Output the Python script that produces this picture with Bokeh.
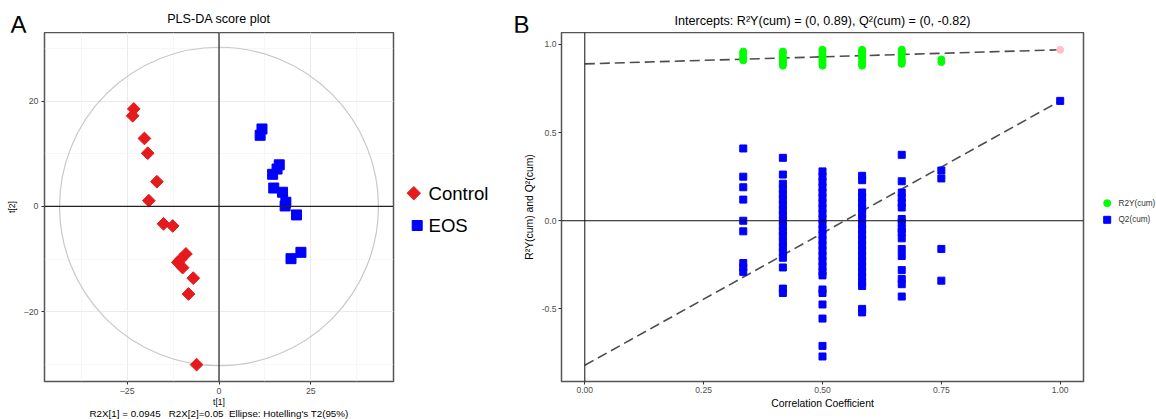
import math
from bokeh.plotting import figure
from bokeh.models import (Range1d, FixedTicker, Span, NumeralTickFormatter)
from bokeh.core.properties import value
from bokeh.layouts import row, column
from bokeh.embed import file_html
from bokeh.resources import INLINE

FONT = "Liberation Sans"

# ---------------- Panel A data (PLS-DA scores) ----------------
control_t1 = [-23.2, -23.5, -20.3, -19.4, -16.9, -19.1, -15.1, -12.6, -9.0, -11.2, -9.9, -10.4, -7.0, -8.3, -6.1]
control_t2 = [18.5, 17.2, 12.9, 10.1, 4.7, 1.1, -3.3, -3.7, -9.0, -10.6, -11.6, -10.0, -13.6, -16.6, -30.0]
eos_t1 = [11.7, 11.2, 16.4, 15.8, 14.6, 14.9, 17.3, 18.2, 18.0, 21.1, 22.3, 19.6]
eos_t2 = [14.7, 13.5, 7.9, 7.1, 6.1, 3.5, 2.7, 0.8, 0.1, -1.6, -8.7, -9.9]
ellipse_a = 43.4
ellipse_b = 30.2
t1_ticks = [-25, 0, 25]
t2_ticks = [-20, 0, 20]
groups = ["Control", "EOS"]
title_a = "PLS-DA score plot"
caption = "R2X[1] = 0.0945\u00a0\u00a0 R2X[2]=0.05\u00a0 Ellipse: Hotelling's T2(95%)"

# ---------------- Panel B data (permutation test) ----------------
r2y_x = ([1/3]*6 + [5/12]*8 + [0.5]*9 + [7/12]*9 + [2/3]*8 + [0.75]*2)
r2y_val = ([0.96, 0.95, 0.94, 0.93, 0.92, 0.91] +
           [0.96, 0.95, 0.93, 0.92, 0.91, 0.90, 0.89, 0.88] +
           [0.97, 0.96, 0.94, 0.93, 0.92, 0.91, 0.90, 0.89, 0.88] +
           [0.97, 0.96, 0.95, 0.94, 0.93, 0.92, 0.90, 0.89, 0.88] +
           [0.97, 0.96, 0.95, 0.94, 0.92, 0.91, 0.90, 0.89] +
           [0.915, 0.90])
q2_col_1 = [0.41, 0.25, 0.19, 0.12, 0.00, -0.06, -0.24, -0.265, -0.29]
q2_col_2 = [0.357, 0.262, 0.21, 0.18, 0.15, 0.12, 0.09, 0.06, 0.03, 0.0, -0.03, -0.06,
            -0.085, -0.12, -0.15, -0.18, -0.21, -0.265, -0.385, -0.41]
q2_col_3 = [0.28, 0.25, 0.22, 0.19, 0.16, 0.13, 0.10, 0.07, 0.04, 0.01, -0.02, -0.05,
            -0.08, -0.11, -0.14, -0.17, -0.20, -0.23, -0.26, -0.29, -0.31, -0.39, -0.41,
            -0.475, -0.555, -0.71, -0.77]
q2_col_4 = [0.255, 0.23, 0.16, 0.13, 0.10, 0.07, 0.04, 0.01, -0.02, -0.05, -0.08, -0.11,
            -0.14, -0.17, -0.20, -0.23, -0.26, -0.29, -0.32, -0.35, -0.37, -0.50, -0.52]
q2_col_5 = [0.374, 0.224, 0.16, 0.13, 0.10, 0.075, 0.01, -0.01, -0.045, -0.065, -0.10,
            -0.16, -0.20, -0.28, -0.33, -0.36, -0.43]
q2_col_6 = [0.285, 0.24, -0.16, -0.34]
q2_x = ([1/3]*len(q2_col_1) + [5/12]*len(q2_col_2) + [0.5]*len(q2_col_3) +
        [7/12]*len(q2_col_4) + [2/3]*len(q2_col_5) + [0.75]*len(q2_col_6) + [1.0])
q2_val = q2_col_1 + q2_col_2 + q2_col_3 + q2_col_4 + q2_col_5 + q2_col_6 + [0.68]
r2y_orig = 0.97
q2_orig = 0.68
r2y_intercept = 0.89
q2_intercept = -0.82
corr_ticks = [0.0, 0.25, 0.5, 0.75, 1.0]
q_ticks = [-0.5, 0.0, 0.5, 1.0]
title_b = "Intercepts: R²Y(cum) = (0, 0.89), Q²(cum) = (0, -0.82)"
series_b = ["R2Y(cum)", "Q2(cum)"]

RED = "#E41A1C"
BLUE = "#0000FF"
GREEN = "#00FF00"
PINK = "#FFC0CB"

W, H = 1156, 419
STRIP_H = 40        # title strip height (its lowest 8 px lie under the plots row)
TOP = 32            # canvas y where the plots row starts
ROW_H = H - TOP
CAP_H = 16          # caption strip, laid over the bottom of panel A
FRAME_TOP, FRAME_BOTTOM = 32, 381   # canvas y of the plot frames


def bare(width, height, y_range):
    f = figure(width=width, height=height, x_range=Range1d(0, width), y_range=y_range,
               output_backend="svg", toolbar_location=None, x_axis_type=None, y_axis_type=None,
               min_border=0, outline_line_color=None)
    f.grid.visible = False
    return f


def style_axes(p, tick_size="8.8px"):
    for ax in (p.xaxis, p.yaxis):
        ax.axis_line_color = None
        ax.major_tick_line_color = "#333333"
        ax.major_tick_in = 0
        ax.major_tick_out = 3
        ax.minor_tick_line_color = None
        ax.major_label_text_font = FONT
        ax.major_label_text_font_size = tick_size
        ax.major_label_text_color = "#4d4d4d"
        ax.major_label_standoff = 2
        ax.axis_label_text_font = FONT
        ax.axis_label_text_font_style = "normal"
        ax.axis_label_text_color = "#000000"
    p.outline_line_color = "#555555"
    p.outline_line_width = 1.5


# ---------------- title strip ----------------
strip = bare(W, STRIP_H, Range1d(0, STRIP_H))
strip.text(x=[10, 513], y=[STRIP_H - 23.5, STRIP_H - 23.5], text=["A", "B"], text_font=value(FONT),
           text_font_size="24px", text_baseline="middle", text_align="left", text_color="#000000")
strip.text(x=[218.5, 822], y=[STRIP_H - 18, STRIP_H - 20], text=[title_a, title_b],
           text_font=value(FONT), text_font_size="12.6px", text_baseline="middle",
           text_align="center", text_color="#000000")

# ---------------- Panel A ----------------
p1 = figure(width=400, height=ROW_H, x_range=Range1d(-47.5, 47.5), y_range=Range1d(-33.2, 33.0),
            output_backend="svg", toolbar_location=None,
            min_border_left=44, min_border_right=7, min_border_top=0, min_border_bottom=38)
style_axes(p1)
p1.xaxis.ticker = FixedTicker(ticks=t1_ticks, minor_ticks=[-37.5, -12.5, 12.5, 37.5])
p1.yaxis.ticker = FixedTicker(ticks=t2_ticks, minor_ticks=[-30, -10, 10, 30])
p1.grid.grid_line_color = "#ebebeb"
p1.grid.grid_line_width = 1
p1.grid.minor_grid_line_color = "#f2f2f2"
p1.grid.minor_grid_line_width = 0.6
p1.xaxis.axis_label = "t[1]"
p1.yaxis.axis_label = "t[2]"
p1.xaxis.axis_label_text_font_size = "8.5px"
p1.yaxis.axis_label_text_font_size = "8.5px"
p1.xaxis.major_label_standoff = 2
p1.xaxis.axis_label_standoff = 0
p1.yaxis.axis_label_standoff = 4

p1.ellipse(x=[0], y=[0], width=[2 * ellipse_a], height=[2 * ellipse_b],
           fill_color=None, line_color="#c8c8c8", line_width=1.2)
p1.add_layout(Span(location=0, dimension="height", line_color="#222222", line_width=1.2))
p1.add_layout(Span(location=0, dimension="width", line_color="#222222", line_width=1.2))
p1.scatter(control_t1, control_t2, marker="square", angle=math.pi / 4, size=9,
           fill_color=RED, line_color=RED)
p1.scatter(eos_t1, eos_t2, marker="square", size=10, fill_color=BLUE, line_color=BLUE)

# legend strip for panel A (canvas x 400..500); y = H - canvas_y
legA = bare(100, ROW_H, Range1d(H - FRAME_BOTTOM, H - FRAME_TOP))
legA.scatter([13.3], [H - 192.7], marker="square", angle=math.pi / 4, size=9.5,
             fill_color=RED, line_color=RED)
legA.scatter([16.7], [H - 225], marker="square", size=10, fill_color=BLUE, line_color=BLUE)
legA.text(x=[28, 28], y=[H - 192.7, H - 225], text=groups, text_font=value(FONT),
          text_font_size="18.6px", text_baseline="middle", text_align="left", text_color="#000000")

# ---------------- Panel B ----------------
p2 = figure(width=585, height=ROW_H, x_range=Range1d(-0.049, 1.049), y_range=Range1d(-0.912, 1.068),
            output_backend="svg", toolbar_location=None,
            min_border_left=61, min_border_right=2, min_border_top=0, min_border_bottom=38)
style_axes(p2, tick_size="8.6px")
p2.grid.grid_line_color = None
p2.xaxis.ticker = FixedTicker(ticks=corr_ticks)
p2.yaxis.ticker = FixedTicker(ticks=q_ticks)
p2.xaxis.formatter = NumeralTickFormatter(format="0.00")
p2.yaxis.formatter = NumeralTickFormatter(format="0.0")
p2.xaxis.axis_label = "Correlation Coefficient"
p2.yaxis.axis_label = "R²Y(cum) and Q²(cum)"
p2.xaxis.axis_label_text_font_size = "10.4px"
p2.yaxis.axis_label_text_font_size = "10.4px"
p2.xaxis.axis_label_standoff = 2
p2.yaxis.axis_label_standoff = 4

p2.add_layout(Span(location=0, dimension="height", line_color="#111111", line_width=1))
p2.add_layout(Span(location=0, dimension="width", line_color="#111111", line_width=1))
p2.line([0, 1], [r2y_intercept, r2y_orig], line_color="#4d4d4d", line_width=1.6, line_dash="10 5")
p2.line([0, 1], [q2_intercept, q2_orig], line_color="#4d4d4d", line_width=1.6, line_dash="10 5")
p2.scatter(r2y_x, r2y_val, marker="circle", size=7, fill_color=GREEN, line_color=GREEN)
p2.scatter([1.0], [r2y_orig], marker="circle", size=7, fill_color=PINK, line_color=PINK)
p2.scatter(q2_x, q2_val, marker="square", size=7, fill_color=BLUE, line_color=BLUE)

# legend strip for panel B (canvas x 1085..1156)
legB = bare(71, ROW_H, Range1d(H - FRAME_BOTTOM, H - FRAME_TOP))
legB.scatter([21.7], [H - 202.7], marker="circle", size=7, fill_color=GREEN, line_color=GREEN)
legB.scatter([21.7], [H - 219.3], marker="square", size=7, fill_color=BLUE, line_color=BLUE)
legB.text(x=[33, 33], y=[H - 202.7, H - 219.3], text=series_b, text_font=value(FONT),
          text_font_size="8.2px", text_baseline="middle", text_align="left", text_color="#333333")

# caption strip (transparent), laid over the bottom of panel A
cap = bare(400, CAP_H, Range1d(0, CAP_H))
cap.border_fill_color = None
cap.background_fill_color = None
cap.text(x=[218.5], y=[H - 413], text=[caption], text_font=value(FONT),
         text_font_size="9.8px", text_baseline="middle", text_align="center", text_color="#000000")
cap.margin = (-CAP_H, 0, 0, 0)

plots = row(p1, legA, p2, legB, margin=(TOP - STRIP_H, 0, 0, 0))
layout = column(strip, plots, cap)
open("out.html", "w").write(file_html(layout, INLINE))
